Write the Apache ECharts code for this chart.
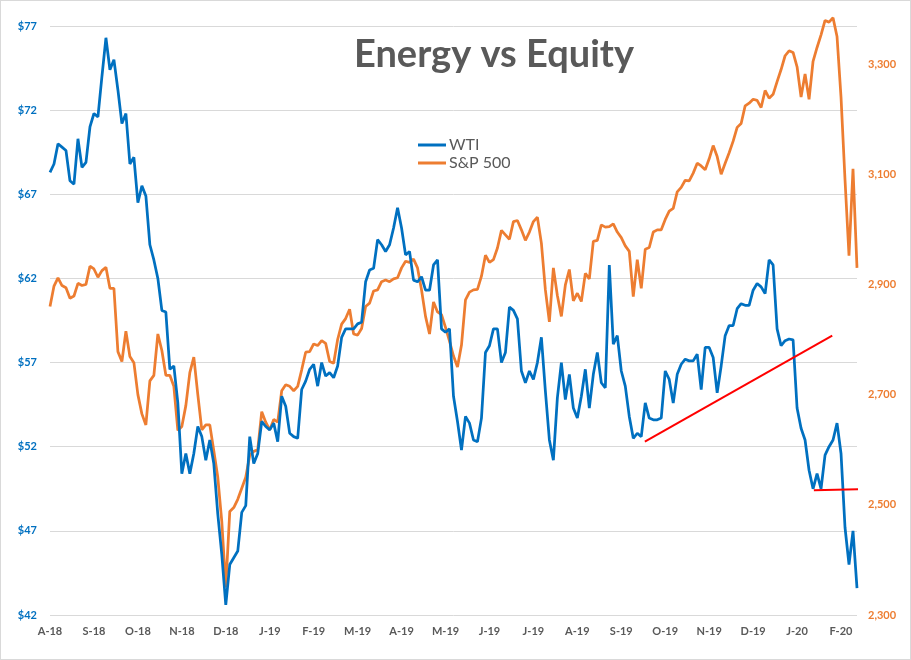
<!DOCTYPE html>
<html>
<head>
<meta charset="utf-8">
<title>Energy vs Equity</title>
<script src="https://cdn.jsdelivr.net/npm/echarts@6/dist/echarts.min.js"></script>
<style>
  html, body { margin: 0; padding: 0; background: #fff; }
  #chart { width: 911px; height: 660px; box-sizing: border-box; border: 1px solid #d9d9d9; }
</style>
</head>
<body>
<div id="chart"></div>
<script>
// month labels, one every 11 points on the x axis
const monthLabels = ['A-18', 'S-18', 'O-18', 'N-18', 'D-18', 'J-19', 'F-19', 'M-19', 'A-19', 'M-19',
  'J-19', 'J-19', 'A-19', 'S-19', 'O-19', 'N-19', 'D-19', 'J-20', 'F-20']
const pointsPerLabel = 11

// WTI crude, $ per barrel (left axis)
const wti = [
  68.3, 68.8, 70.0, 69.8, 69.6, 67.8, 67.6, 70.3, 68.6, 68.9,
  71.0, 71.8, 71.6, 74.0, 76.3, 74.4, 75.0, 73.2, 71.2, 71.8,
  68.8, 69.2, 66.5, 67.5, 66.9, 64.0, 63.1, 62.0, 60.1, 60.0,
  56.6, 56.8, 54.6, 50.4, 51.6, 50.4, 51.6, 53.2, 52.6, 51.2,
  52.4, 51.0, 48.0, 45.6, 42.6, 45.0, 45.4, 45.8, 48.1, 48.5,
  52.6, 51.0, 51.6, 53.5, 53.2, 53.0, 53.4, 52.3, 55.0, 54.4,
  52.8, 52.6, 52.5, 55.4, 55.9, 56.6, 56.9, 55.6, 57.0, 56.2,
  56.4, 56.1, 56.8, 58.5, 59.0, 59.0, 59.0, 59.3, 59.4, 61.8,
  62.5, 62.6, 64.3, 64.0, 63.6, 64.0, 65.0, 66.2, 65.0, 63.4,
  63.6, 61.9, 61.8, 62.1, 61.3, 61.3, 62.8, 63.1, 59.0, 58.8,
  59.0, 55.0, 53.5, 51.8, 53.8, 53.4, 52.4, 52.3, 53.7, 57.6,
  58.0, 59.0, 59.0, 57.0, 57.6, 60.3, 60.1, 59.6, 56.5, 55.8,
  56.5, 56.0, 57.0, 58.5, 55.3, 52.4, 51.2, 54.9, 57.0, 54.8,
  56.3, 54.3, 53.7, 55.0, 56.6, 54.3, 56.3, 57.6, 55.8, 55.5,
  62.8, 58.1, 58.6, 56.5, 55.6, 53.8, 52.5, 52.8, 52.6, 54.6,
  53.7, 53.6, 53.6, 53.7, 56.5, 56.0, 54.6, 56.3, 56.9, 57.2,
  57.1, 57.1, 57.5, 55.4, 57.9, 57.9, 57.3, 55.2, 56.8, 58.6,
  59.2, 59.2, 60.2, 60.5, 60.4, 60.4, 61.3, 61.7, 61.5, 61.1,
  63.1, 62.8, 59.0, 58.0, 58.3, 58.4, 58.35, 54.3, 53.1, 52.4,
  50.6, 49.5, 50.4, 49.5, 51.5, 52.0, 52.4, 53.4, 51.6, 47.2,
  45.0, 47.0, 43.6
]

// S&P 500 index (right axis)
const sp500 = [
  2860, 2897, 2912, 2898, 2894, 2875, 2879, 2902, 2898, 2900,
  2933, 2928, 2913, 2925, 2931, 2893, 2893, 2778, 2760, 2815,
  2769, 2758, 2700, 2665, 2645, 2725, 2735, 2810, 2780, 2735,
  2735, 2715, 2635, 2642, 2680, 2740, 2768, 2700, 2636, 2645,
  2645, 2598, 2550, 2470, 2350, 2488, 2495, 2510, 2530, 2550,
  2590, 2597, 2600, 2669, 2650, 2636, 2655, 2650, 2707, 2718,
  2715, 2707, 2715, 2745, 2777, 2778, 2792, 2789, 2798, 2793,
  2760, 2757, 2800, 2828, 2838, 2855, 2810, 2808, 2820, 2860,
  2866, 2888, 2890, 2905, 2908, 2905, 2910, 2912, 2930, 2942,
  2940, 2946, 2930, 2890, 2842, 2810, 2868, 2850, 2845, 2822,
  2797, 2770, 2750, 2790, 2872, 2886, 2890, 2891, 2915, 2953,
  2940, 2945, 2966, 2998, 2990, 2982, 3014, 3016, 2999, 2980,
  2995, 3014, 3022, 2975, 2890, 2832, 2930, 2880, 2842, 2899,
  2927, 2870, 2884, 2869, 2920, 2910, 2978, 2980, 3008, 3004,
  3005, 3010, 2995, 2985, 2970, 2960, 2878, 2945, 2893, 2964,
  2967, 2995, 2999, 2999, 3018, 3033, 3038, 3068, 3076, 3089,
  3088, 3102, 3120, 3115, 3108, 3128, 3152, 3132, 3100, 3120,
  3139, 3160, 3185, 3192, 3224, 3229, 3236, 3234, 3221, 3252,
  3238, 3245, 3268, 3290, 3315, 3324, 3321, 3295, 3240, 3282,
  3236, 3305, 3330, 3353, 3379, 3376, 3384, 3350, 3240, 3090,
  2952, 3110, 2930
]

// hand-drawn red trend lines, in [point index, WTI $]
const trendUp = [[148.9, 52.3], [195.8, 58.6]]
const trendFlat = [[191.2, 49.42], [204.7, 49.48]]

const lastIndex = wti.length - 1
const labelFont = { fontFamily: 'Lato', fontWeight: 'bold', fontSize: 11 }

const chart = echarts.init(document.getElementById('chart'), null, { renderer: 'canvas' })

chart.setOption({
  animation: false,
  backgroundColor: '#ffffff',
  title: {
    text: 'Energy vs Equity',
    left: 488,
    top: 30,
    textAlign: 'center',
    textStyle: { fontFamily: 'Lato', fontWeight: 'bold', fontSize: 38, color: '#595959' }
  },
  legend: {
    data: ['WTI', 'S&P 500'],
    orient: 'vertical',
    left: 412,
    top: 131,
    itemGap: 2,
    itemWidth: 28,
    itemHeight: 3,
    icon: 'rect',
    textStyle: { fontFamily: 'Lato', fontSize: 16, color: '#595959', padding: [0, 0, 0, -2] }
  },
  grid: { left: 49, right: 53, top: 25, bottom: 44 },
  xAxis: {
    type: 'value',
    min: 0,
    max: lastIndex,
    interval: pointsPerLabel,
    axisLine: { show: false },
    axisTick: { show: false },
    splitLine: { show: false },
    axisLabel: {
      ...labelFont,
      color: '#595959',
      margin: 11,
      showMaxLabel: false,
      formatter: v => monthLabels[v / pointsPerLabel] || ''
    }
  },
  yAxis: [
    {
      type: 'value',
      min: 42,
      max: 77,
      interval: 5,
      axisLine: { show: false },
      axisTick: { show: false },
      splitLine: { lineStyle: { color: '#d9d9d9', width: 1 } },
      axisLabel: { ...labelFont, color: '#0070c0', margin: 13, formatter: v => '$' + v }
    },
    {
      type: 'value',
      min: 2300,
      max: 3369,
      interval: 200,
      position: 'right',
      axisLine: { show: false },
      axisTick: { show: false },
      splitLine: { show: false },
      axisLabel: {
        ...labelFont,
        color: '#ed7d31',
        margin: 11,
        showMaxLabel: false,
        formatter: v => v.toLocaleString('en-US')
      }
    }
  ],
  series: [
    {
      name: 'WTI',
      type: 'line',
      yAxisIndex: 0,
      data: wti.map((v, i) => [i, v]),
      showSymbol: false,
      clip: false,
      z: 3,
      lineStyle: { color: '#0070c0', width: 2.75 },
      itemStyle: { color: '#0070c0' }
    },
    {
      name: 'S&P 500',
      type: 'line',
      yAxisIndex: 1,
      data: sp500.map((v, i) => [i, v]),
      showSymbol: false,
      clip: false,
      z: 2,
      lineStyle: { color: '#ed7d31', width: 2.75 },
      itemStyle: { color: '#ed7d31' }
    },
    {
      name: 'trend up',
      type: 'line',
      yAxisIndex: 0,
      data: trendUp,
      showSymbol: false,
      clip: false,
      silent: true,
      z: 4,
      lineStyle: { color: '#ff0000', width: 2 }
    },
    {
      name: 'trend flat',
      type: 'line',
      yAxisIndex: 0,
      data: trendFlat,
      showSymbol: false,
      clip: false,
      silent: true,
      z: 4,
      lineStyle: { color: '#ff0000', width: 2 }
    }
  ]
})
</script>
</body>
</html>
